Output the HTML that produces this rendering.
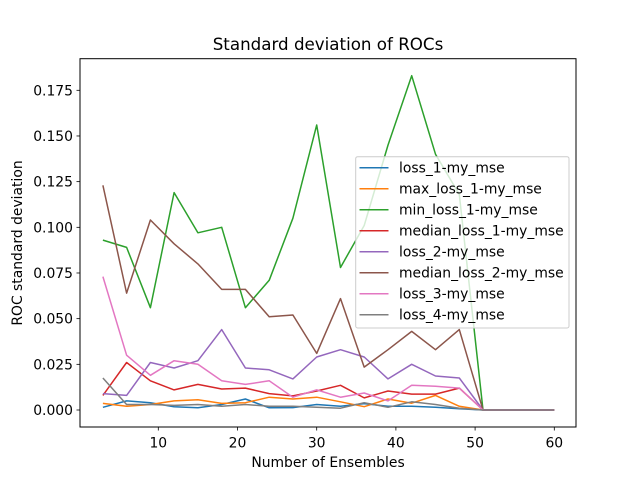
<!DOCTYPE html>
<html><head><meta charset="utf-8"><style>
body{margin:0;background:#fff;}
svg{display:block;font-family:"DejaVu Sans","Liberation Sans",sans-serif;}
</style></head><body>
<svg id="chart" width="640" height="480" viewBox="0 0 640 480" xmlns="http://www.w3.org/2000/svg">
<rect x="0" y="0" width="640" height="480" fill="#fff"/>
<text x="328" y="50" font-size="16.7" text-anchor="middle">Standard deviation of ROCs</text>
<text x="328" y="467" font-size="13.9" text-anchor="middle">Number of Ensembles</text>
<text x="22" y="243" font-size="13.9" text-anchor="middle" transform="rotate(-90 22 243)">ROC standard deviation</text>
<g id="plot"></g>
<rect x="80" y="58.7" width="496" height="368.3" fill="none" stroke="#000" stroke-width="1"/>
<g id="legend"></g>
</svg>
<script>
const xs = [3,6,9,12,15,18,21,24,27,30,33,36,39,42,45,48,51,54,57,60];
const seriesNames = ["loss_1-my_mse","max_loss_1-my_mse","min_loss_1-my_mse","median_loss_1-my_mse","loss_2-my_mse","median_loss_2-my_mse","loss_3-my_mse","loss_4-my_mse"];
const s_loss1 = [0.0015,0.005,0.004,0.0018,0.0012,0.003,0.006,0.0012,0.0013,0.003,0.002,0.0035,0.002,0.002,0.0015,0.0007,0,0,0,0];
const s_maxloss1 = [0.0036,0.002,0.003,0.005,0.0056,0.0036,0.004,0.007,0.006,0.007,0.0045,0.0018,0.006,0.0037,0.008,0.002,0,0,0,0];
const s_minloss1 = [0.093,0.089,0.056,0.119,0.097,0.100,0.056,0.071,0.105,0.156,0.078,0.101,0.145,0.183,0.140,0.118,0,0,0,0];
const s_medloss1 = [0.008,0.026,0.016,0.011,0.014,0.0115,0.012,0.009,0.0077,0.0104,0.0135,0.0066,0.0104,0.0087,0.0087,0.012,0,0,0,0];
const s_loss2 = [0.009,0.008,0.026,0.023,0.027,0.044,0.023,0.022,0.017,0.029,0.033,0.029,0.017,0.025,0.0186,0.0175,0,0,0,0];
const s_medloss2 = [0.123,0.064,0.104,0.091,0.080,0.066,0.066,0.051,0.052,0.031,0.061,0.0235,0.033,0.043,0.033,0.044,0,0,0,0];
const s_loss3 = [0.073,0.030,0.019,0.027,0.025,0.016,0.014,0.016,0.007,0.011,0.007,0.0093,0.005,0.0136,0.013,0.012,0,0,0,0];
const s_loss4 = [0.0175,0.003,0.003,0.0025,0.003,0.002,0.003,0.002,0.002,0.0015,0.001,0.004,0.0015,0.0045,0.003,0.001,0,0,0,0];
const xTicks = [10,20,30,40,50,60];
const yTicks = [0,0.025,0.05,0.075,0.1,0.125,0.15,0.175];
const yTickLabels = ["0.000","0.025","0.050","0.075","0.100","0.125","0.150","0.175"];

const colors = ["#1f77b4","#ff7f0e","#2ca02c","#d62728","#9467bd","#8c564b","#e377c2","#7f7f7f"];
const allSeries = [s_loss1,s_maxloss1,s_minloss1,s_medloss1,s_loss2,s_medloss2,s_loss3,s_loss4];
const NS = "http://www.w3.org/2000/svg";
function xScale(v){ return 158.3 + (v-10)*(554.3-158.3)/50; }
function yScale(v){ return 410 - v*(410-90.3)/0.175; }
const svg = document.getElementById('chart');
const plot = document.getElementById('plot');
function mk(tag, attrs, parent){ const e=document.createElementNS(NS,tag); for(const k in attrs) e.setAttribute(k,attrs[k]); (parent||svg).appendChild(e); return e; }

xTicks.forEach(t=>{
  const x=xScale(t);
  const l=mk('line',{x1:x,x2:x,y1:427,y2:430.5,stroke:'#000','stroke-width':0.8});
  
  
  const tx=mk('text',{x:x,y:447.5,'font-size':13.9,'text-anchor':'middle'});
  tx.textContent=t;
  
  
});
yTicks.forEach((t,i)=>{
  const y=yScale(t);
  const l=mk('line',{x1:76.5,x2:80,y1:y,y2:y,stroke:'#000','stroke-width':0.8});
  
  
  const tx=mk('text',{x:73,y:y+5,'font-size':13.9,'text-anchor':'end'});
  tx.textContent=yTickLabels[i];
  
  
});
allSeries.forEach((s,i)=>{
  const pts=s.map((v,j)=>xScale(xs[j]).toFixed(1)+','+yScale(v).toFixed(1)).join(' ');
  const p=mk('polyline',{points:pts,fill:'none',stroke:colors[i],'stroke-width':1.5,'stroke-linejoin':'round'},plot);
  
  
});
const lg=document.getElementById('legend');
const box=mk('rect',{x:355.7,y:156.7,width:213.3,height:171.3,rx:2,fill:'#fff','fill-opacity':0.8,stroke:'#ccc','stroke-width':1},lg);


seriesNames.forEach((n,i)=>{
  const y=167.7+i*21;
  const l=mk('line',{x1:359.5,x2:388.5,y1:y,y2:y,stroke:colors[i],'stroke-width':1.5},lg);
  
  
  const t=mk('text',{x:399,y:y+5,'font-size':13.9},lg);
  t.textContent=n;
  
  
});
</script>
</body></html>
